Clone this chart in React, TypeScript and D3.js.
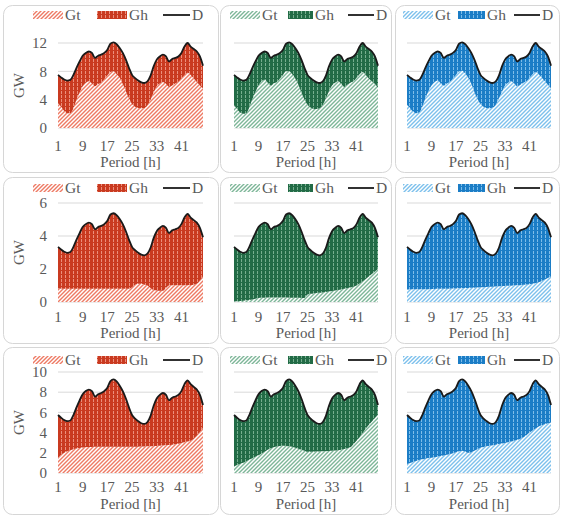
import React from 'react';
import * as d3 from 'd3';

// hours of the day-pair
const hours = [1, 2, 3, 4, 5, 6, 7, 8, 9, 10, 11, 12, 13, 14, 15, 16, 17, 18, 19, 20, 21, 22, 23, 24,
  25, 26, 27, 28, 29, 30, 31, 32, 33, 34, 35, 36, 37, 38, 39, 40, 41, 42, 43, 44, 45, 46, 47, 48];
const xTicks = [1, 9, 17, 25, 33, 41];

// demand D per row
const demandRow1 = [7.5, 7.15, 6.85, 6.7, 6.8, 7.5, 8.5, 9.4, 10.2, 10.6, 10.8, 10.6, 9.9, 10.2, 10.35, 10.6, 11.05, 11.9, 12.1, 11.85,
  11.3, 10.6, 9.65, 8.5, 7.5, 7.05, 6.7, 6.45, 6.35, 6.6, 7.4, 8.7, 9.65, 10.1, 10.35, 10.1, 9.4, 9.75, 9.9, 10.1,
  10.6, 11.5, 12.0, 11.5, 11.15, 10.8, 10.1, 8.8];
const demandRow2 = [3.34, 3.18, 3.05, 2.98, 3.03, 3.34, 3.78, 4.18, 4.54, 4.72, 4.81, 4.72, 4.41, 4.54, 4.61, 4.72, 4.92, 5.3, 5.38, 5.27,
  5.03, 4.72, 4.29, 3.78, 3.34, 3.14, 2.98, 2.87, 2.83, 2.94, 3.29, 3.87, 4.29, 4.49, 4.61, 4.49, 4.18, 4.34, 4.41, 4.49,
  4.72, 5.12, 5.34, 5.12, 4.96, 4.81, 4.49, 3.92];
const demandRow3 = [5.74, 5.47, 5.24, 5.13, 5.2, 5.74, 6.5, 7.19, 7.8, 8.11, 8.26, 8.11, 7.57, 7.8, 7.92, 8.11, 8.45, 9.1, 9.26, 9.07,
  8.64, 8.11, 7.38, 6.5, 5.74, 5.39, 5.13, 4.93, 4.86, 5.05, 5.66, 6.66, 7.38, 7.73, 7.92, 7.73, 7.19, 7.46, 7.57, 7.73,
  8.11, 8.8, 9.18, 8.8, 8.53, 8.26, 7.73, 6.73];

// thermal generation Gt per panel
const gtRow1Red = [3.5, 3.0, 2.4, 2.1, 2.1, 2.8, 4.0, 5.0, 5.9, 6.4, 6.6, 6.3, 5.9, 6.2, 6.4, 6.9, 7.4, 7.9, 8.0, 7.6,
  7.1, 6.2, 5.2, 4.2, 3.4, 3.0, 2.8, 2.8, 2.8, 3.2, 4.0, 5.0, 5.9, 6.3, 6.5, 6.2, 5.8, 6.0, 6.3, 6.5,
  7.0, 7.5, 7.8, 7.5, 7.0, 6.5, 6.0, 5.6];
const gtRow1Green = [3.2, 2.7, 2.2, 2.0, 2.1, 2.9, 4.1, 5.1, 6.0, 6.6, 6.8, 6.4, 6.0, 6.3, 6.5, 7.0, 7.5, 8.0, 8.0, 7.6,
  7.0, 6.1, 5.0, 4.0, 3.3, 2.9, 2.7, 2.7, 2.8, 3.3, 4.2, 5.2, 6.0, 6.4, 6.6, 6.2, 5.8, 6.1, 6.4, 6.6,
  7.1, 7.6, 7.9, 7.5, 7.0, 6.6, 6.2, 5.7];
const gtRow1Blue = [3.3, 2.8, 2.3, 2.1, 2.2, 3.0, 4.2, 5.2, 6.0, 6.5, 6.7, 6.3, 6.0, 6.3, 6.5, 7.0, 7.5, 8.0, 8.1, 7.7,
  7.1, 6.2, 5.1, 4.1, 3.4, 3.0, 2.8, 2.8, 2.9, 3.3, 4.2, 5.1, 6.0, 6.4, 6.6, 6.3, 5.9, 6.1, 6.4, 6.6,
  7.1, 7.6, 7.9, 7.6, 7.1, 6.6, 6.1, 5.6];
const gtRow2Red = [0.82, 0.81, 0.8, 0.8, 0.8, 0.8, 0.8, 0.8, 0.8, 0.8, 0.8, 0.8, 0.8, 0.8, 0.8, 0.8, 0.8, 0.8, 0.8, 0.8,
  0.8, 0.8, 0.8, 0.8, 0.9, 1.05, 1.1, 1.1, 1.05, 1.0, 0.85, 0.72, 0.7, 0.68, 0.68, 0.85, 1.0, 1.02, 1.02, 1.02,
  1.02, 1.02, 1.02, 1.03, 1.05, 1.1, 1.3, 1.55];
const gtRow2Green = [0.05, 0.05, 0.06, 0.08, 0.1, 0.12, 0.15, 0.2, 0.25, 0.26, 0.26, 0.27, 0.27, 0.27, 0.27, 0.27, 0.27, 0.27, 0.26, 0.26,
  0.26, 0.26, 0.25, 0.25, 0.45, 0.5, 0.52, 0.55, 0.56, 0.58, 0.6, 0.63, 0.66, 0.7, 0.73, 0.76, 0.8, 0.84, 0.88, 0.92,
  1.0, 1.12, 1.25, 1.4, 1.55, 1.7, 1.85, 2.0];
const gtRow2Blue = [0.76, 0.76, 0.77, 0.77, 0.77, 0.78, 0.78, 0.78, 0.79, 0.79, 0.8, 0.8, 0.8, 0.81, 0.81, 0.82, 0.82, 0.83, 0.84, 0.85,
  0.85, 0.86, 0.87, 0.88, 0.9, 0.9, 0.91, 0.92, 0.93, 0.94, 0.95, 0.96, 0.97, 0.98, 0.99, 1.0, 1.01, 1.02, 1.04, 1.06,
  1.08, 1.1, 1.15, 1.2, 1.28, 1.36, 1.45, 1.55];
const gtRow3Red = [1.5, 1.8, 2.0, 2.15, 2.25, 2.35, 2.42, 2.48, 2.52, 2.55, 2.57, 2.58, 2.6, 2.6, 2.6, 2.6, 2.6, 2.6, 2.6, 2.6,
  2.6, 2.6, 2.6, 2.6, 2.6, 2.6, 2.6, 2.62, 2.63, 2.64, 2.65, 2.66, 2.68, 2.7, 2.72, 2.74, 2.76, 2.8, 2.85, 2.9,
  2.98, 3.05, 3.12, 3.2, 3.4, 3.7, 4.05, 4.45];
const gtRow3Green = [0.65, 0.78, 0.9, 1.02, 1.15, 1.3, 1.45, 1.6, 1.75, 1.92, 2.1, 2.3, 2.45, 2.55, 2.62, 2.68, 2.7, 2.68, 2.65, 2.6,
  2.5, 2.4, 2.3, 2.2, 2.1, 2.1, 2.1, 2.12, 2.13, 2.15, 2.16, 2.18, 2.2, 2.22, 2.25, 2.3, 2.38, 2.46, 2.55, 2.85,
  3.2, 3.55, 3.95, 4.4, 4.75, 5.1, 5.45, 5.8];
const gtRow3Blue = [0.9, 1.0, 1.1, 1.2, 1.28, 1.35, 1.42, 1.48, 1.52, 1.57, 1.62, 1.68, 1.74, 1.8, 1.88, 1.96, 2.05, 2.15, 2.2, 2.1,
  2.0, 2.05, 2.2, 2.35, 2.5, 2.58, 2.64, 2.7, 2.75, 2.8, 2.86, 2.92, 2.98, 3.05, 3.12, 3.2, 3.28, 3.4, 3.55, 3.75,
  4.0, 4.2, 4.4, 4.6, 4.72, 4.82, 4.92, 5.0];

const rowYMax = [12, 6, 10];
const rowYTicks = [[0, 4, 8, 12], [0, 2, 4, 6], [0, 2, 4, 6, 8, 10]];
const rowDemand = [demandRow1, demandRow2, demandRow3];
const gtGrid = [
  [gtRow1Red, gtRow1Green, gtRow1Blue],
  [gtRow2Red, gtRow2Green, gtRow2Blue],
  [gtRow3Red, gtRow3Green, gtRow3Blue],
];

const palettes = [
  { id: 'red', dark: '#C93A20', stripe: '#EC8F7C', light: '#EE7A64' },
  { id: 'green', dark: '#226B46', stripe: '#76AE8E', light: '#7DB698' },
  { id: 'blue', dark: '#1B7DC6', stripe: '#7EBDE9', light: '#7CC0EC' },
];

// layout
const cols = [
  { left: 3, right: 218, plotL: 58, plotR: 203, legend: [33, 63, 97, 127, 163, 190] },
  { left: 220, right: 391, plotL: 234, plotR: 378, legend: [230, 260, 288, 313, 348, 374] },
  { left: 395, right: 559, plotL: 407, plotR: 551, legend: [403, 433, 458, 485, 514, 540] },
];
const rows = [
  { top: 5, bottom: 172, plotTop: 43, plotBot: 128, legendY: 15, tickY: 151, titleY: 167 },
  { top: 177, bottom: 343, plotTop: 203, plotBot: 302, legendY: 188, tickY: 322, titleY: 338 },
  { top: 347, bottom: 514, plotTop: 372, plotBot: 473, legendY: 360, tickY: 492, titleY: 509 },
];

const FONT = '"Liberation Serif", "Times New Roman", serif';
const GREY = '#595959';

function Panel({ r, c }: { r: number; c: number }) {
  const col = cols[c];
  const row = rows[r];
  const pal = palettes[c];
  const demand = rowDemand[r];
  const gt = gtGrid[r][c];

  const x = d3.scaleLinear().domain([1, 48]).range([col.plotL, col.plotR]);
  const y = d3.scaleLinear().domain([0, rowYMax[r]]).range([row.plotBot, row.plotTop]);

  const curve = d3.curveMonotoneX;
  const gtArea = d3.area<number>()
    .x((_, i) => x(hours[i]))
    .y0(y(0))
    .y1(d => y(d))
    .curve(curve);
  const ghArea = d3.area<number>()
    .x((_, i) => x(hours[i]))
    .y0((_, i) => y(gt[i]))
    .y1(d => y(d))
    .curve(curve);
  const dLine = d3.line<number>()
    .x((_, i) => x(hours[i]))
    .y(d => y(d))
    .curve(curve);

  const lg = col.legend;
  const ly = row.legendY;

  return (
    <g>
      <rect x={col.left + 0.5} y={row.top + 0.5} width={col.right - col.left} height={row.bottom - row.top}
        rx={9} fill="#fff" stroke="#d6d6d6" strokeWidth={1} />
      {rowYTicks[r].map(t => (
        <line key={t} x1={col.plotL} x2={col.plotR} y1={y(t)} y2={y(t)} stroke="#d9d9d9" strokeWidth={1} />
      ))}
      <path d={gtArea(gt) || ''} fill={`url(#gt-${pal.id})`} />
      <path d={ghArea(demand) || ''} fill={`url(#gh-${pal.id})`} />
      <path d={dLine(demand) || ''} fill="none" stroke="#1a1a1a" strokeWidth={1.8} />

      {c === 0 && rowYTicks[r].map(t => (
        <text key={t} x={col.plotL - 11} y={y(t)} dy="0.35em" textAnchor="end" fontSize={15}
          fontFamily={FONT} fill={GREY}>{t}</text>
      ))}
      {c === 0 && (
        <text transform={`translate(24,${(row.plotTop + row.plotBot) / 2}) rotate(-90)`} textAnchor="middle"
          fontSize={15} fontFamily={FONT} fill={GREY}>GW</text>
      )}
      {xTicks.map(t => (
        <text key={t} x={x(t)} y={row.tickY} textAnchor="middle" fontSize={15} fontFamily={FONT}
          fill={GREY}>{t}</text>
      ))}
      <text x={(col.plotL + col.plotR) / 2} y={row.titleY} textAnchor="middle" fontSize={15}
        fontFamily={FONT} fill={GREY}>Period [h]</text>

      {/* legend */}
      <rect x={lg[0]} y={ly - 4} width={lg[1] - lg[0]} height={8} fill={`url(#gt-${pal.id})`} />
      <text x={lg[1] + 2} y={ly} dy="0.35em" fontSize={15.5} fontFamily={FONT} fill={GREY}>Gt</text>
      <rect x={lg[2]} y={ly - 4} width={lg[3] - lg[2]} height={8} fill={`url(#gh-${pal.id})`} />
      <text x={lg[3] + 2} y={ly} dy="0.35em" fontSize={15.5} fontFamily={FONT} fill={GREY}>Gh</text>
      <line x1={lg[4]} x2={lg[5]} y1={ly} y2={ly} stroke="#1a1a1a" strokeWidth={1.8} />
      <text x={lg[5] + 2} y={ly} dy="0.35em" fontSize={15.5} fontFamily={FONT} fill={GREY}>D</text>
    </g>
  );
}

export default function App() {
  return (
    <svg width={561} height={517} style={{ position: 'absolute', left: 0, top: 0, background: '#fff' }}>
      <defs>
        {palettes.map(p => (
          <React.Fragment key={p.id}>
            <pattern id={`gt-${p.id}`} patternUnits="userSpaceOnUse" width={4} height={4}>
              <rect width={4} height={4} fill="#fff" />
              <path d="M-1,1 l2,-2 M0,4 l4,-4 M3,5 l2,-2" stroke={p.light} strokeWidth={1.4} />
            </pattern>
            <pattern id={`gh-${p.id}`} patternUnits="userSpaceOnUse" width={4} height={4}>
              <rect width={4} height={4} fill={p.dark} />
              <rect x={1} y={0} width={1} height={2} fill={p.stripe} />
              <rect x={1} y={3} width={1} height={1} fill={p.stripe} />
            </pattern>
          </React.Fragment>
        ))}
      </defs>
      {[0, 1, 2].map(r => [0, 1, 2].map(c => <Panel key={`${r}-${c}`} r={r} c={c} />))}
    </svg>
  );
}
